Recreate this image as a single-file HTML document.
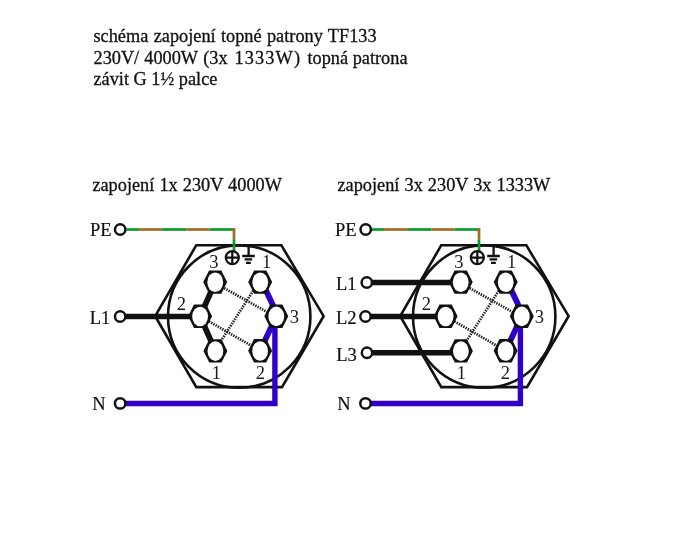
<!DOCTYPE html>
<html><head><meta charset="utf-8"><style>
html,body{margin:0;padding:0;background:#fff;width:674px;height:545px;overflow:hidden}
svg{display:block;will-change:transform}
</style></head><body>
<svg width="674" height="545" viewBox="0 0 674 545">
<rect width="674" height="545" fill="#fff"/>
<text x="93.5" y="41.5" font-family="Liberation Serif" font-size="18.3" fill="#111" stroke="#111" stroke-width="0.3" word-spacing="0.8">schéma zapojení topné patrony TF133</text>
<text y="63.5" font-family="Liberation Serif" font-size="18.3" fill="#111" stroke="#111" stroke-width="0.3"><tspan x="93.5">230V/</tspan><tspan x="144.3">4000W</tspan><tspan x="203.2">(3x</tspan><tspan x="234.6" letter-spacing="1.1">1333W)</tspan><tspan x="307.5">topná patrona</tspan></text>
<text x="93.5" y="85" font-family="Liberation Serif" font-size="18.3" fill="#111" stroke="#111" stroke-width="0.3">závit G 1½ palce</text>
<text x="92.4" y="190.6" font-family="Liberation Serif" font-size="18.3" fill="#111" stroke="#111" stroke-width="0.3" word-spacing="0.5">zapojení 1x 230V 4000W</text>
<text x="337.5" y="190.6" font-family="Liberation Serif" font-size="18.3" fill="#111" stroke="#111" stroke-width="0.3" word-spacing="0.5">zapojení 3x 230V 3x 1333W</text>
<polygon points="155.2,316.2 196.3,245.2 281.3,245.2 323.6,316.2 282.0,387.1 196.3,387.1" fill="none" stroke="#111" stroke-width="2.6" stroke-linejoin="miter"/>
<circle cx="239.2" cy="316.6" r="71.2" fill="none" stroke="#111" stroke-width="2.6"/>
<line x1="215.20" y1="283.10" x2="276.30" y2="317.20" stroke="#1e1e1e" stroke-width="2.7" stroke-dasharray="1.4 1.15"/>
<line x1="200.10" y1="316.30" x2="260.10" y2="350.80" stroke="#1e1e1e" stroke-width="2.7" stroke-dasharray="1.4 1.15"/>
<line x1="258.70" y1="282.10" x2="214.65" y2="350.90" stroke="#1e1e1e" stroke-width="2.7" stroke-dasharray="1.4 1.15"/>
<line x1="120.15" y1="316.5" x2="200.1" y2="316.5" stroke="#111" stroke-width="5.5"/>
<line x1="215.2" y1="282.1" x2="200.1" y2="316.3" stroke="#111" stroke-width="5.8"/>
<line x1="200.1" y1="316.3" x2="215.4" y2="350.9" stroke="#111" stroke-width="5.8"/>
<polyline points="120.15,403.5 274.9,403.5 274.9,316.2" fill="none" stroke="#3000c8" stroke-width="5.4" stroke-linejoin="miter"/>
<line x1="262.0" y1="282.1" x2="278.1" y2="316.2" stroke="#3000c8" stroke-width="5.8"/>
<line x1="276.3" y1="316.2" x2="260.1" y2="350.8" stroke="#3000c8" stroke-width="5.8"/>
<polygon points="203.20,282.10 209.10,270.40 221.30,270.40 227.20,282.10 221.30,293.80 209.10,293.80" fill="#111"/>
<ellipse cx="215.20" cy="282.30" rx="7.9" ry="9.8" fill="#fff"/>
<polygon points="248.20,282.10 254.10,270.40 266.30,270.40 272.20,282.10 266.30,293.80 254.10,293.80" fill="#111"/>
<ellipse cx="260.20" cy="282.30" rx="7.9" ry="9.8" fill="#fff"/>
<polygon points="188.10,316.30 194.00,304.60 206.20,304.60 212.10,316.30 206.20,328.00 194.00,328.00" fill="#111"/>
<ellipse cx="200.10" cy="316.50" rx="7.9" ry="9.8" fill="#fff"/>
<polygon points="264.30,316.20 270.20,304.50 282.40,304.50 288.30,316.20 282.40,327.90 270.20,327.90" fill="#111"/>
<ellipse cx="276.30" cy="316.40" rx="7.9" ry="9.8" fill="#fff"/>
<polygon points="203.40,350.90 209.30,339.20 221.50,339.20 227.40,350.90 221.50,362.60 209.30,362.60" fill="#111"/>
<ellipse cx="215.40" cy="351.10" rx="7.9" ry="9.8" fill="#fff"/>
<polygon points="248.10,350.80 254.00,339.10 266.20,339.10 272.10,350.80 266.20,362.50 254.00,362.50" fill="#111"/>
<ellipse cx="260.10" cy="351.00" rx="7.9" ry="9.8" fill="#fff"/>
<line x1="126.5" y1="229.5" x2="139.1" y2="229.5" stroke="#0a9a2a" stroke-width="2.7"/>
<line x1="139.1" y1="229.5" x2="162.2" y2="229.5" stroke="#a56a1e" stroke-width="2.7"/>
<line x1="162.2" y1="229.5" x2="186.6" y2="229.5" stroke="#0a9a2a" stroke-width="2.7"/>
<line x1="186.6" y1="229.5" x2="209.6" y2="229.5" stroke="#a56a1e" stroke-width="2.7"/>
<line x1="209.6" y1="229.5" x2="235.1" y2="229.5" stroke="#0a9a2a" stroke-width="2.7"/>
<line x1="234" y1="228.3" x2="234" y2="239.3" stroke="#a56a1e" stroke-width="2.7"/>
<line x1="234" y1="239.3" x2="234" y2="251" stroke="#0a9a2a" stroke-width="2.7"/>
<circle cx="232.3" cy="257.6" r="6.5" fill="#fff" stroke="#111" stroke-width="2.3"/>
<path d="M232.3 251.1V264.1M225.8 257.6H238.8" stroke="#111" stroke-width="2.2"/>
<path d="M248.6 245V256M242.2 256H254.8M244.6 259.3H252.2M246.0 262.9H250.8" stroke="#111" stroke-width="2.3"/>
<circle cx="120.2" cy="229.45" r="5.2" fill="#fff" stroke="#111" stroke-width="2.5"/>
<circle cx="120.15" cy="316.5" r="5.2" fill="#fff" stroke="#111" stroke-width="2.5"/>
<circle cx="120.15" cy="403.4" r="5.2" fill="#fff" stroke="#111" stroke-width="2.5"/>
<text x="111.6" y="235.6" font-family="Liberation Serif" font-size="18.5" fill="#111" stroke="#111" stroke-width="0.2" text-anchor="end">PE</text>
<text x="110.3" y="323.8" font-family="Liberation Serif" font-size="18.5" fill="#111" stroke="#111" stroke-width="0.2" text-anchor="end">L1</text>
<text x="105.5" y="410.3" font-family="Liberation Serif" font-size="18.5" fill="#111" stroke="#111" stroke-width="0.2" text-anchor="end">N</text>
<text x="209.2" y="268.2" font-family="Liberation Serif" font-size="18.5" fill="#1a1a1a">3</text>
<text x="262" y="268.2" font-family="Liberation Serif" font-size="18.5" fill="#1a1a1a">1</text>
<text x="176.7" y="310" font-family="Liberation Serif" font-size="18.5" fill="#1a1a1a">2</text>
<text x="289.8" y="323.1" font-family="Liberation Serif" font-size="18.5" fill="#1a1a1a">3</text>
<text x="211.8" y="379.1" font-family="Liberation Serif" font-size="18.5" fill="#1a1a1a">1</text>
<text x="255.7" y="379.1" font-family="Liberation Serif" font-size="18.5" fill="#1a1a1a">2</text>
<polygon points="400.2,316.2 441.3,245.2 526.3,245.2 568.6,316.2 527.0,387.1 441.3,387.1" fill="none" stroke="#111" stroke-width="2.6" stroke-linejoin="miter"/>
<circle cx="484.2" cy="316.6" r="71.2" fill="none" stroke="#111" stroke-width="2.6"/>
<line x1="460.70" y1="283.10" x2="521.80" y2="317.20" stroke="#1e1e1e" stroke-width="2.7" stroke-dasharray="1.4 1.15"/>
<line x1="445.60" y1="316.30" x2="505.60" y2="350.80" stroke="#1e1e1e" stroke-width="2.7" stroke-dasharray="1.4 1.15"/>
<line x1="504.20" y1="282.10" x2="460.15" y2="350.90" stroke="#1e1e1e" stroke-width="2.7" stroke-dasharray="1.4 1.15"/>
<line x1="366.8" y1="282.6" x2="460.7" y2="282.6" stroke="#111" stroke-width="5.5"/>
<line x1="365.5" y1="316.5" x2="445.6" y2="316.5" stroke="#111" stroke-width="5.5"/>
<line x1="367" y1="352.8" x2="460.9" y2="352.8" stroke="#111" stroke-width="5.5"/>
<polyline points="365.5,403.5 520.4,403.5 520.4,316.2" fill="none" stroke="#3000c8" stroke-width="5.4" stroke-linejoin="miter"/>
<line x1="507.5" y1="282.1" x2="523.5999999999999" y2="316.2" stroke="#3000c8" stroke-width="5.8"/>
<line x1="521.8" y1="316.2" x2="505.6" y2="350.8" stroke="#3000c8" stroke-width="5.8"/>
<polygon points="448.70,282.10 454.60,270.40 466.80,270.40 472.70,282.10 466.80,293.80 454.60,293.80" fill="#111"/>
<ellipse cx="460.70" cy="282.30" rx="7.9" ry="9.8" fill="#fff"/>
<polygon points="493.70,282.10 499.60,270.40 511.80,270.40 517.70,282.10 511.80,293.80 499.60,293.80" fill="#111"/>
<ellipse cx="505.70" cy="282.30" rx="7.9" ry="9.8" fill="#fff"/>
<polygon points="433.60,316.30 439.50,304.60 451.70,304.60 457.60,316.30 451.70,328.00 439.50,328.00" fill="#111"/>
<ellipse cx="445.60" cy="316.50" rx="7.9" ry="9.8" fill="#fff"/>
<polygon points="509.80,316.20 515.70,304.50 527.90,304.50 533.80,316.20 527.90,327.90 515.70,327.90" fill="#111"/>
<ellipse cx="521.80" cy="316.40" rx="7.9" ry="9.8" fill="#fff"/>
<polygon points="448.90,350.90 454.80,339.20 467.00,339.20 472.90,350.90 467.00,362.60 454.80,362.60" fill="#111"/>
<ellipse cx="460.90" cy="351.10" rx="7.9" ry="9.8" fill="#fff"/>
<polygon points="493.60,350.80 499.50,339.10 511.70,339.10 517.60,350.80 511.70,362.50 499.50,362.50" fill="#111"/>
<ellipse cx="505.60" cy="351.00" rx="7.9" ry="9.8" fill="#fff"/>
<line x1="371.5" y1="229.5" x2="384.1" y2="229.5" stroke="#0a9a2a" stroke-width="2.7"/>
<line x1="384.1" y1="229.5" x2="407.2" y2="229.5" stroke="#a56a1e" stroke-width="2.7"/>
<line x1="407.2" y1="229.5" x2="431.6" y2="229.5" stroke="#0a9a2a" stroke-width="2.7"/>
<line x1="431.6" y1="229.5" x2="454.6" y2="229.5" stroke="#a56a1e" stroke-width="2.7"/>
<line x1="454.6" y1="229.5" x2="480.1" y2="229.5" stroke="#0a9a2a" stroke-width="2.7"/>
<line x1="479" y1="228.3" x2="479" y2="239.3" stroke="#a56a1e" stroke-width="2.7"/>
<line x1="479" y1="239.3" x2="479" y2="251" stroke="#0a9a2a" stroke-width="2.7"/>
<circle cx="477.3" cy="257.6" r="6.5" fill="#fff" stroke="#111" stroke-width="2.3"/>
<path d="M477.3 251.1V264.1M470.8 257.6H483.8" stroke="#111" stroke-width="2.2"/>
<path d="M493.6 245V256M487.2 256H499.8M489.6 259.3H497.2M491.0 262.9H495.8" stroke="#111" stroke-width="2.3"/>
<circle cx="365.7" cy="229.45" r="5.2" fill="#fff" stroke="#111" stroke-width="2.5"/>
<circle cx="366.8" cy="282.5" r="5.2" fill="#fff" stroke="#111" stroke-width="2.5"/>
<circle cx="365.5" cy="316.5" r="5.2" fill="#fff" stroke="#111" stroke-width="2.5"/>
<circle cx="367" cy="352.8" r="5.2" fill="#fff" stroke="#111" stroke-width="2.5"/>
<circle cx="365.5" cy="403.4" r="5.2" fill="#fff" stroke="#111" stroke-width="2.5"/>
<text x="356.6" y="235.6" font-family="Liberation Serif" font-size="18.5" fill="#111" stroke="#111" stroke-width="0.2" text-anchor="end">PE</text>
<text x="356.5" y="289.8" font-family="Liberation Serif" font-size="18.5" fill="#111" stroke="#111" stroke-width="0.2" text-anchor="end">L1</text>
<text x="356.5" y="324.2" font-family="Liberation Serif" font-size="18.5" fill="#111" stroke="#111" stroke-width="0.2" text-anchor="end">L2</text>
<text x="356.8" y="360.5" font-family="Liberation Serif" font-size="18.5" fill="#111" stroke="#111" stroke-width="0.2" text-anchor="end">L3</text>
<text x="350.5" y="410.3" font-family="Liberation Serif" font-size="18.5" fill="#111" stroke="#111" stroke-width="0.2" text-anchor="end">N</text>
<text x="454.2" y="268.2" font-family="Liberation Serif" font-size="18.5" fill="#1a1a1a">3</text>
<text x="507" y="268.2" font-family="Liberation Serif" font-size="18.5" fill="#1a1a1a">1</text>
<text x="421.7" y="310" font-family="Liberation Serif" font-size="18.5" fill="#1a1a1a">2</text>
<text x="534.8" y="323.1" font-family="Liberation Serif" font-size="18.5" fill="#1a1a1a">3</text>
<text x="456.8" y="379.1" font-family="Liberation Serif" font-size="18.5" fill="#1a1a1a">1</text>
<text x="500.7" y="379.1" font-family="Liberation Serif" font-size="18.5" fill="#1a1a1a">2</text>
</svg>
</body></html>
